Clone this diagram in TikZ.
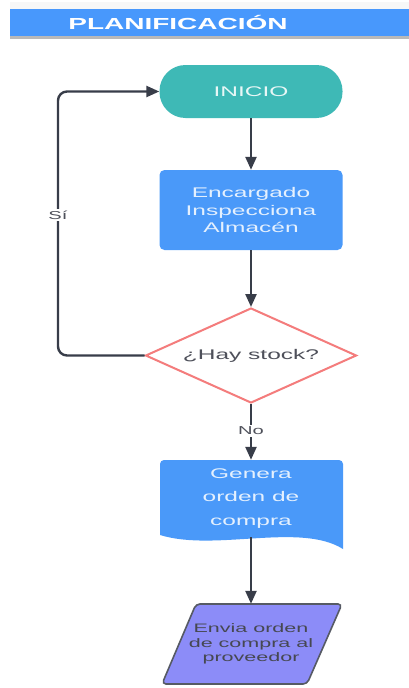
\documentclass[tikz,border=0pt]{standalone}
\usepackage{fontspec}
\usetikzlibrary{arrows.meta,shapes.geometric}
\newfontfamily\wf[FakeStretch=1.75]{Liberation Sans}
\definecolor{hdrblue}{RGB}{72,152,252}
\definecolor{boxblue}{RGB}{74,153,249}
\definecolor{tealc}{RGB}{62,185,182}
\definecolor{rosec}{RGB}{244,124,124}
\definecolor{lavc}{RGB}{140,140,248}
\definecolor{linec}{RGB}{56,61,73}
\definecolor{txtdark}{RGB}{78,80,90}
\tikzset{
  arr/.style={draw=linec, line width=2.4pt, -{Triangle[length=13pt,width=11pt]}},
  lbl/.style={fill=white, inner sep=1.5pt, text=txtdark, font=\wf\fontsize{11.5}{13}\selectfont},
  startbox/.style={fill=tealc, rounded corners=26pt, minimum width=183pt, minimum height=53pt,
    text=white!88!tealc, font=\wf\fontsize{14}{17}\selectfont},
  procbox/.style={fill=boxblue, rounded corners=5pt, minimum width=183pt, minimum height=80pt,
    align=center, text=white!85!boxblue, font=\wf\fontsize{14}{17.5}\selectfont},
  decbox/.style={diamond, aspect=2.22, draw=rosec, line width=2pt, fill=white, minimum width=211pt,
    minimum height=95pt, inner sep=0pt, text=txtdark, font=\wf\fontsize{14}{17}\selectfont},
  textonly/.style={inner sep=0pt, align=center},
}
\begin{document}
\begin{tikzpicture}[x=1pt,y=-1pt]
  \useasboundingbox (0,0) rectangle (409,688);
  \fill[white] (0,0) rectangle (409,688);

  % title band
  \fill[gray!6] (10,2) rectangle (409,9);
  \fill[hdrblue] (10,9) rectangle (409,36);
  \fill[gray!55] (10,36) rectangle (409,39);
  \node[text=white, font=\wf\bfseries\fontsize{16}{18}\selectfont] (title) at (178,22.5) {PLANIFICACIÓN};

  % flow nodes
  \node[startbox] (ini) at (251,91.5) {INICIO};
  \node[procbox] (enc) at (251,210) {Encargado\\Inspecciona\\Almacén};
  \node[decbox] (dia) at (251,355.5) {¿Hay stock?};

  % document shape with wavy lower edge
  \fill[boxblue, rounded corners=4pt] (160,535) -- (160,460) -- (343,460) [sharp corners] -- (343,549)
     .. controls (300,522) and (215,552) .. (160,535) -- cycle;
  \node[textonly, minimum width=183pt, minimum height=77pt, text=white!85!boxblue,
        font=\wf\fontsize{14}{23.5}\selectfont] (gen) at (251,498.5) {Genera\\orden de\\compra};

  % input/output shape
  \filldraw[fill=lavc, draw=linec!85, line width=1.6pt, rounded corners=4pt]
     (196,604) -- (342,604) -- (307,684) -- (162,684) -- cycle;
  \node[textonly, minimum width=150pt, minimum height=80pt, text=txtdark!90!black,
        font=\wf\fontsize{12.3}{14.5}\selectfont] (env) at (251,644) {Envia orden\\de compra al\\proveedor};

  % connectors
  \draw[arr] (ini) -- (enc);
  \draw[arr] (enc) -- (dia);
  \coordinate (lp) at (58,355.5);
  \draw[arr, rounded corners=9pt] (dia.west) -- (lp) |- (ini.west);
  \node[lbl] (si) at (58,215) {Sí};
  \draw[arr] (dia.south) -- (gen.north);
  \node[lbl] (no) at (251,431) {No};
  \draw[arr] (gen.south) -- (env.north);
\end{tikzpicture}
\end{document}
